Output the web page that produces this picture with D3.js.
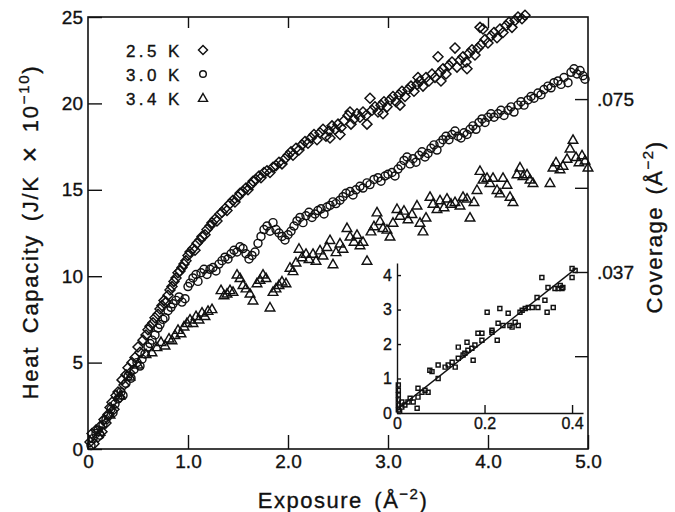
<!DOCTYPE html>
<html>
<head>
<meta charset="utf-8">
<script src="https://cdn.jsdelivr.net/npm/d3@7"></script>
<style>
  body { margin: 0; background: #fff; }
  svg { font-family: 'Liberation Sans', Arial, sans-serif; fill: #111; }
  svg text { stroke: #111; stroke-width: 0.35; }
  .frame { fill: none; stroke: #111; stroke-width: 1.6; }
  .tick line, .domain { stroke: #111; stroke-width: 1.4; }
  .mark { fill: none; stroke: #111; stroke-width: 1.45; }
</style>
</head>
<body>
<svg width="675" height="512"></svg>
<script>
// tick values and labels
const exposureTicks = [0, 1, 2, 3, 4, 5]
const exposureLabels = ['0', '1.0', '2.0', '3.0', '4.0', '5.0']
const heatTicks = [0, 5, 10, 15, 20, 25]
const coverageTicks = [0.0185, 0.037, 0.0555, 0.075]
const coverageLabels = ['', '.037', '', '.075']
const legendNames = ['2.5 K', '3.0 K', '3.4 K']
const insetXTicks = [0, 0.2, 0.4]
const insetXLabels = ['0', '0.2', '0.4']
const insetYTicks = [0, 1, 2, 3, 4]

// [exposure, heat capacity] at 2.5 K (diamonds)
const k25 = [[0.02,0.4],[0.04,0.9],[0.06,0.3],[0.08,1.1],[0.1,0.7],[0.12,1.3],[0.14,1.0],[0.16,1.7],[0.18,1.5],[0.2,2.0],[0.22,2.4],[0.24,2.7],[0.26,2.3],[0.28,3.1],[0.3,3.3],[0.32,3.0],[0.34,4.0],[0.36,3.7],[0.38,4.3],[0.4,4.7],[0.42,4.4],[0.44,5.0],[0.47,5.3],[0.5,5.9],[0.52,5.6],[0.55,6.3],[0.58,6.6],[0.6,6.9],[0.62,7.1],[0.65,7.3],[0.67,7.6],[0.7,7.8],[0.72,8.1],[0.74,8.3],[0.76,8.6],[0.78,8.5],[0.8,8.9],[0.82,9.2],[0.84,9.4],[0.86,9.7],[0.88,9.9],[0.9,10.2],[0.92,10.3],[0.94,10.5],[0.96,10.7],[0.98,10.9],[1.0,11.2],[1.02,11.4],[1.05,11.6],[1.07,11.5],[1.09,11.9],[1.12,12.1],[1.14,12.3],[1.17,12.4],[1.19,12.7],[1.22,12.9],[1.24,13.1],[1.27,13.3],[1.29,13.2],[1.32,13.6],[1.34,13.7],[1.37,13.9],[1.39,13.8],[1.42,14.2],[1.45,14.4],[1.47,14.3],[1.5,14.6],[1.52,14.8],[1.55,14.9],[1.58,15.1],[1.6,15.0],[1.63,15.3],[1.65,15.5],[1.68,15.6],[1.71,15.8],[1.73,15.7],[1.76,16.0],[1.79,16.1],[1.82,16.0],[1.85,16.3],[1.88,16.4],[1.91,16.6],[1.94,16.5],[1.97,16.8],[2.0,17.0],[2.03,17.2],[2.05,17.0],[2.08,17.4],[2.11,17.3],[2.14,17.6],[2.17,17.8],[2.2,17.7],[2.23,18.0],[2.26,18.2],[2.29,17.9],[2.32,18.3],[2.35,18.5],[2.38,18.1],[2.41,18.4],[2.42,18.0],[2.44,18.7],[2.47,18.5],[2.5,18.8],[2.52,18.2],[2.53,18.6],[2.56,19.0],[2.6,19.3],[2.62,19.5],[2.63,18.8],[2.66,19.1],[2.69,19.4],[2.72,19.2],[2.75,19.5],[2.78,19.3],[2.79,18.8],[2.82,20.3],[2.84,19.6],[2.87,19.8],[2.9,19.5],[2.93,19.9],[2.95,19.4],[2.96,20.1],[2.99,19.8],[3.02,20.2],[3.05,20.4],[3.08,20.1],[3.11,20.5],[3.12,19.9],[3.14,20.7],[3.17,20.4],[3.2,20.8],[3.23,21.0],[3.26,20.7],[3.29,21.1],[3.3,21.5],[3.32,21.3],[3.35,21.0],[3.38,21.5],[3.41,21.3],[3.44,21.7],[3.47,21.5],[3.5,22.7],[3.52,21.8],[3.53,21.3],[3.55,22.0],[3.58,21.7],[3.61,22.2],[3.64,22.4],[3.67,23.2],[3.69,22.1],[3.72,22.5],[3.75,22.7],[3.78,22.4],[3.79,22.0],[3.81,22.9],[3.84,23.1],[3.87,22.8],[3.9,23.2],[3.92,24.4],[3.93,23.4],[3.95,24.3],[3.97,23.7],[4.0,23.5],[4.03,23.9],[4.06,24.1],[4.09,23.8],[4.12,24.3],[4.15,24.1],[4.18,24.5],[4.21,24.7],[4.24,24.4],[4.27,24.8],[4.3,25.0],[4.34,24.9],[4.37,25.1]]

// 3.0 K (circles)
const k30 = [[0.03,0.2],[0.05,0.6],[0.08,0.9],[0.1,1.1],[0.12,0.8],[0.15,1.4],[0.18,1.7],[0.2,1.9],[0.23,2.3],[0.25,2.1],[0.27,2.6],[0.3,2.9],[0.33,3.3],[0.35,3.1],[0.38,3.8],[0.4,4.2],[0.43,4.1],[0.46,4.6],[0.49,5.0],[0.52,4.8],[0.54,5.2],[0.57,5.5],[0.6,5.9],[0.62,6.1],[0.64,6.3],[0.67,6.6],[0.7,7.0],[0.72,7.2],[0.75,7.5],[0.77,7.6],[0.8,8.0],[0.83,8.2],[0.85,8.4],[0.88,8.6],[0.91,8.8],[0.94,8.5],[0.97,8.7],[1.0,9.4],[1.02,9.6],[1.05,9.9],[1.08,10.1],[1.1,9.7],[1.13,10.2],[1.16,10.4],[1.19,10.1],[1.22,10.4],[1.25,10.5],[1.28,10.3],[1.31,10.7],[1.34,10.9],[1.37,11.1],[1.4,11.0],[1.43,11.3],[1.46,11.5],[1.49,11.4],[1.52,11.7],[1.55,11.6],[1.58,11.3],[1.61,11.0],[1.64,11.2],[1.67,11.4],[1.7,11.9],[1.73,12.3],[1.76,12.7],[1.79,12.9],[1.82,12.6],[1.85,13.1],[1.88,12.7],[1.91,12.5],[1.94,12.3],[1.97,12.1],[2.0,12.4],[2.03,12.6],[2.06,12.9],[2.09,13.2],[2.12,13.4],[2.15,13.1],[2.18,13.5],[2.21,13.7],[2.24,13.4],[2.27,13.6],[2.3,13.8],[2.33,13.9],[2.36,13.6],[2.39,14.0],[2.42,14.1],[2.45,14.3],[2.48,14.2],[2.52,14.4],[2.55,14.6],[2.58,14.8],[2.62,14.9],[2.65,14.7],[2.68,15.0],[2.72,15.2],[2.75,15.1],[2.79,15.4],[2.82,15.3],[2.86,15.6],[2.9,15.7],[2.93,15.5],[2.97,15.8],[3.0,15.9],[3.04,16.0],[3.07,15.8],[3.1,16.2],[3.13,16.4],[3.16,16.7],[3.19,16.9],[3.22,16.5],[3.25,16.8],[3.28,16.6],[3.31,17.0],[3.34,17.2],[3.37,16.9],[3.4,17.1],[3.43,17.4],[3.46,17.6],[3.49,17.3],[3.52,17.7],[3.55,17.9],[3.58,18.1],[3.61,17.9],[3.64,18.2],[3.67,18.4],[3.7,18.1],[3.73,18.0],[3.76,18.3],[3.79,18.2],[3.82,18.5],[3.85,18.7],[3.88,18.5],[3.91,18.9],[3.94,19.1],[3.97,18.9],[4.0,19.2],[4.03,19.4],[4.06,19.2],[4.1,19.4],[4.13,19.6],[4.16,19.3],[4.2,19.6],[4.23,19.8],[4.26,19.5],[4.3,19.9],[4.33,20.1],[4.36,19.9],[4.4,20.2],[4.43,20.4],[4.46,20.3],[4.5,20.6],[4.53,20.5],[4.56,20.8],[4.6,21.0],[4.63,20.9],[4.66,21.2],[4.7,21.3],[4.73,21.1],[4.76,21.5],[4.8,21.2],[4.83,21.8],[4.86,22.0],[4.89,21.7],[4.92,21.9],[4.95,21.6],[4.97,21.4]]

// 3.4 K (triangles)
const k34 = [[0.12,1.0],[0.22,2.0],[0.32,3.1],[0.42,4.2],[0.5,4.9],[0.58,5.5],[0.64,5.6],[0.69,5.9],[0.73,6.2],[0.77,6.0],[0.81,6.4],[0.84,6.3],[0.87,6.6],[0.9,6.9],[0.93,6.7],[0.96,7.1],[0.99,7.3],[1.02,7.5],[1.05,7.3],[1.08,7.7],[1.11,7.5],[1.14,7.9],[1.17,7.7],[1.2,8.0],[1.24,8.1],[1.33,9.2],[1.36,8.9],[1.39,9.0],[1.42,9.2],[1.45,9.1],[1.49,10.1],[1.52,9.9],[1.55,9.5],[1.58,9.3],[1.62,9.0],[1.65,8.6],[1.69,9.6],[1.72,9.8],[1.75,10.1],[1.78,9.9],[1.82,8.2],[1.85,9.1],[1.88,9.3],[1.91,9.5],[1.94,9.7],[1.98,9.6],[2.02,10.5],[2.05,10.3],[2.08,10.8],[2.11,11.6],[2.14,11.1],[2.18,11.3],[2.21,11.0],[2.25,11.3],[2.28,10.9],[2.32,11.5],[2.35,11.2],[2.39,11.7],[2.42,12.1],[2.45,10.7],[2.48,11.4],[2.52,11.9],[2.55,11.6],[2.59,12.8],[2.62,12.3],[2.66,12.0],[2.69,12.4],[2.72,11.8],[2.75,12.0],[2.79,10.9],[2.83,12.6],[2.86,12.9],[2.89,13.7],[2.92,13.2],[2.95,12.8],[2.99,12.7],[3.02,12.3],[3.05,13.1],[3.09,13.9],[3.12,13.5],[3.16,13.8],[3.2,13.3],[3.24,13.6],[3.29,14.1],[3.32,13.1],[3.35,12.6],[3.38,13.4],[3.42,14.6],[3.45,14.2],[3.49,13.9],[3.52,14.4],[3.56,14.0],[3.59,14.5],[3.63,14.2],[3.67,14.3],[3.72,14.1],[3.75,14.6],[3.79,14.5],[3.82,13.4],[3.86,14.3],[3.89,15.0],[3.92,16.1],[3.95,15.6],[3.99,15.7],[4.02,15.4],[4.05,15.7],[4.09,15.0],[4.12,14.8],[4.15,15.7],[4.19,15.3],[4.22,14.6],[4.25,14.3],[4.29,15.9],[4.32,16.3],[4.35,15.8],[4.39,15.9],[4.42,15.6],[4.45,15.4],[4.62,15.4],[4.65,16.3],[4.68,16.6],[4.72,16.2],[4.75,16.4],[4.79,16.8],[4.82,17.4],[4.85,17.9],[4.88,16.9],[4.91,16.6],[4.94,17.0],[4.97,16.7],[5.0,16.3]]

// inset: low exposure detail (squares) and the straight fit through it
const insetPoints = [[0.003,0.81],[0.003,0.66],[0.003,0.52],[0.003,0.38],[0.003,0.23],[0.003,0.09],[0.006,0.05],[0.011,0.32],[0.011,0.17],[0.018,0.23],[0.025,0.32],[0.03,0.43],[0.037,0.32],[0.046,0.14],[0.048,0.46],[0.048,0.72],[0.057,0.6],[0.064,0.66],[0.071,0.6],[0.075,1.24],[0.08,1.2],[0.094,1.39],[0.094,1.0],[0.11,1.33],[0.117,1.39],[0.126,1.47],[0.133,1.33],[0.14,1.59],[0.14,1.91],[0.151,1.68],[0.155,1.73],[0.16,2.05],[0.162,1.82],[0.171,1.88],[0.174,1.53],[0.178,1.97],[0.185,2.31],[0.194,2.31],[0.194,2.11],[0.206,2.92],[0.217,2.4],[0.217,2.34],[0.229,2.11],[0.231,2.6],[0.235,3.03],[0.242,2.54],[0.254,2.89],[0.258,2.54],[0.263,2.49],[0.27,2.63],[0.277,2.54],[0.281,2.92],[0.286,2.98],[0.293,3.03],[0.3,3.06],[0.309,3.06],[0.32,3.35],[0.322,3.06],[0.338,3.27],[0.343,2.92],[0.345,3.64],[0.331,3.93],[0.357,3.06],[0.361,3.61],[0.368,3.61],[0.373,3.7],[0.377,3.61],[0.379,3.64],[0.4,3.93],[0.4,4.19],[0.407,4.13]]
const insetFit = [[0.005, 0.15], [0.41, 4.2]]

const dim = { width: 675, height: 512, margin: { top: 17, right: 87, bottom: 63, left: 88 } }
const svg = d3.select('svg')

const x = d3.scaleLinear().domain([0, 5]).range([dim.margin.left, dim.width - dim.margin.right])
const y = d3.scaleLinear().domain([0, 25]).range([dim.height - dim.margin.bottom, dim.margin.top])
const yCov = d3.scaleLinear().domain([0, 0.075]).range([y(0.5), y(20.25)]) // coverage calibration on the right side

function markerPath (kind, s) {
  const p = d3.path()
  if (kind === 'diamond') {
    p.moveTo(0, -s); p.lineTo(s, 0); p.lineTo(0, s); p.lineTo(-s, 0); p.closePath()
  } else if (kind === 'circle') {
    p.moveTo(s, 0); p.arc(0, 0, s, 0, 2 * Math.PI)
  } else if (kind === 'triangle') {
    p.moveTo(0, -s); p.lineTo(s, s * 0.75); p.lineTo(-s, s * 0.75); p.closePath()
  } else {
    p.rect(-s, -s, 2 * s, 2 * s)
  }
  return p.toString()
}

function drawAxes () {
  const bottom = svg.append('g')
    .attr('transform', `translate(0,${y(0)})`)
    .call(d3.axisBottom(x).tickValues(exposureTicks).tickFormat((d, i) => exposureLabels[i])
      .tickSizeInner(-14).tickSizeOuter(0).tickPadding(6))
  const top = svg.append('g')
    .attr('transform', `translate(0,${y(25)})`)
    .call(d3.axisTop(x).tickValues([1, 2, 3, 4]).tickFormat('').tickSizeInner(-11).tickSizeOuter(0))
  const left = svg.append('g')
    .attr('transform', `translate(${x(0)},0)`)
    .call(d3.axisLeft(y).tickValues(heatTicks).tickSizeInner(-14).tickSizeOuter(0).tickPadding(5))
  const right = svg.append('g')
    .attr('transform', `translate(${x(5)},0)`)
    .call(d3.axisRight(yCov).tickValues(coverageTicks).tickFormat((d, i) => coverageLabels[i])
      .tickSizeInner(-13).tickSizeOuter(0).tickPadding(9))

  ;[bottom, top, left, right].forEach((g) => {
    g.select('.domain').remove()
    g.attr('font-family', null).attr('font-size', 19)
    g.selectAll('text').attr('fill', '#111')
  })

  svg.append('rect')
    .attr('class', 'frame')
    .attr('x', x(0)).attr('y', y(25))
    .attr('width', x(5) - x(0)).attr('height', y(0) - y(25))
}

function drawTitles () {
  const xt = svg.append('text')
    .attr('x', 343).attr('y', 508)
    .attr('text-anchor', 'middle')
    .attr('font-size', 22).attr('letter-spacing', 1.5).attr('word-spacing', 4)
  xt.append('tspan').text('Exposure (Å')
  xt.append('tspan').attr('dy', -9).attr('font-size', 15).text('−2')
  xt.append('tspan').attr('dy', 9).text(')')

  const yt = svg.append('text')
    .attr('transform', 'translate(38,232) rotate(-90)')
    .attr('text-anchor', 'middle')
    .attr('font-size', 22).attr('letter-spacing', 1.7).attr('word-spacing', 5)
  yt.append('tspan').text('Heat Capacity (J/K ')
  yt.append('tspan').attr('font-size', 27).attr('dy', 1).text('×')
  yt.append('tspan').attr('dy', -1).text(' 10')
  yt.append('tspan').attr('dy', -9).attr('font-size', 15).text('−10')
  yt.append('tspan').attr('dy', 9).text(')')

  const ct = svg.append('text')
    .attr('transform', 'translate(662,227) rotate(-90)')
    .attr('text-anchor', 'middle')
    .attr('font-size', 22).attr('letter-spacing', 1.5).attr('word-spacing', 4)
  ct.append('tspan').text('Coverage (Å')
  ct.append('tspan').attr('dy', -9).attr('font-size', 15).text('−2')
  ct.append('tspan').attr('dy', 9).text(')')
}

function drawSeries (data, kind, size) {
  svg.append('g')
    .selectAll('path')
    .data(data)
    .join('path')
      .attr('class', 'mark')
      .attr('d', markerPath(kind, size))
      .attr('transform', (d) => `translate(${x(d[0])},${y(d[1])})`)
}

function drawLegend () {
  const kinds = [['diamond', 4.5], ['circle', 3.3], ['triangle', 4.5]]
  const g = svg.append('g')
  legendNames.forEach((name, i) => {
    g.append('text')
      .attr('x', 126).attr('y', 57 + i * 24)
      .attr('font-size', 17).attr('letter-spacing', 3.4)
      .attr('stroke-width', 0.6)
      .text(name)
    g.append('path')
      .attr('class', 'mark')
      .attr('stroke-width', 1.2)
      .attr('d', markerPath(kinds[i][0], kinds[i][1]))
      .attr('transform', `translate(203,${50 + i * 24})`)
  })
}

function drawInset () {
  const ix = d3.scaleLinear().domain([0, 0.425]).range([397, 583])
  const iy = d3.scaleLinear().domain([0, 4.35]).range([413, 263])
  const g = svg.append('g')

  const bottom = g.append('g')
    .attr('transform', `translate(0,${iy(0)})`)
    .call(d3.axisBottom(ix).tickValues(insetXTicks).tickFormat((d, i) => insetXLabels[i])
      .tickSizeInner(-8).tickSizeOuter(0).tickPadding(5))
  const left = g.append('g')
    .attr('transform', `translate(${ix(0)},0)`)
    .call(d3.axisLeft(iy).tickValues(insetYTicks).tickFormat(d3.format('d'))
      .tickSizeInner(-4).tickSizeOuter(0).tickPadding(5))
  ;[bottom, left].forEach((a) => {
    a.attr('font-family', null).attr('font-size', 16)
    a.selectAll('text').attr('fill', '#111')
  })

  g.append('path')
    .datum(insetFit)
    .attr('fill', 'none').attr('stroke', '#111').attr('stroke-width', 1.4)
    .attr('d', d3.line().x((d) => ix(d[0])).y((d) => iy(d[1])))

  g.append('g')
    .selectAll('path')
    .data(insetPoints)
    .join('path')
      .attr('class', 'mark')
      .attr('stroke-width', 1)
      .attr('d', markerPath('square', 2))
      .attr('transform', (d) => `translate(${ix(d[0])},${iy(d[1])})`)
}

drawAxes()
drawSeries(k25, 'diamond', 5)
drawSeries(k30, 'circle', 4)
drawSeries(k34, 'triangle', 4.8)
drawLegend()
drawInset()
drawTitles()
</script>
</body>
</html>
